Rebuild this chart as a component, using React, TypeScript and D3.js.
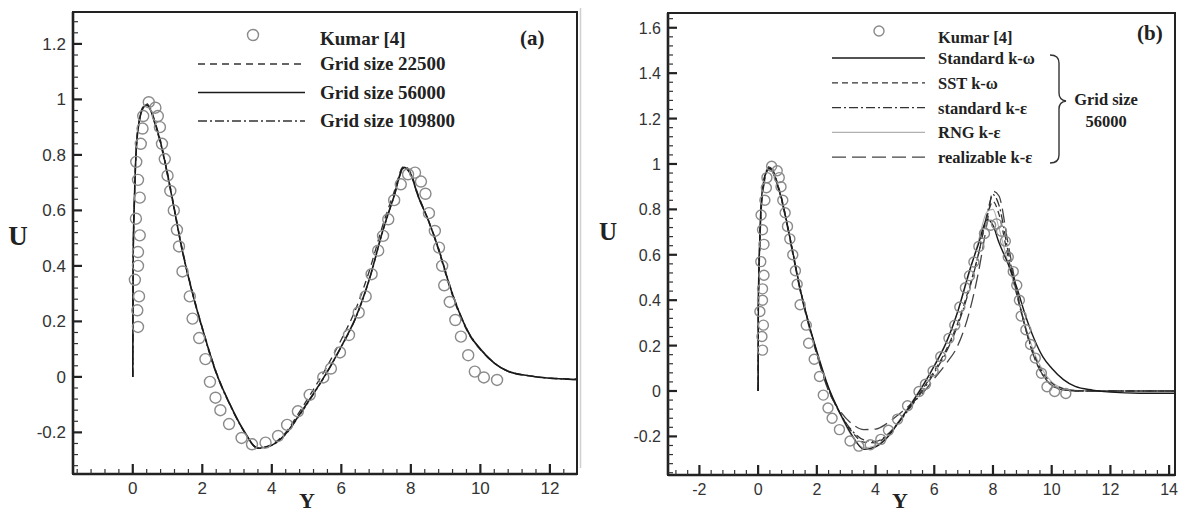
import React from "react";
import * as d3 from "d3";

// Kumar [4] reference points (Y, U)
const kumarY = [
  0.15, 0.13, 0.18, 0.06, 0.15, 0.15, 0.2, 0.09, 0.2, 0.15, 0.1, 0.23, 0.28, 0.3,
  0.46, 0.65, 0.72, 0.78, 0.84, 0.92, 1.0, 1.08, 1.18, 1.27, 1.33, 1.43, 1.64,
  1.72, 1.91, 2.09, 2.22, 2.38, 2.52, 2.77, 3.13, 3.43, 3.82, 4.18, 4.44, 4.75,
  5.09, 5.48, 5.7, 5.96, 6.22, 6.5, 6.7, 6.87, 7.06, 7.2, 7.35, 7.52, 7.71, 7.92,
  8.12, 8.29, 8.42, 8.52, 8.69, 8.81, 8.9, 8.96, 9.12, 9.28, 9.44, 9.65, 9.84,
  10.1, 10.48,
];
const kumarU = [
  0.18, 0.24, 0.29, 0.35, 0.4, 0.45, 0.51, 0.57, 0.646, 0.71, 0.775, 0.84, 0.895,
  0.94, 0.99, 0.97, 0.94, 0.9, 0.84, 0.785, 0.725, 0.67, 0.6, 0.53, 0.47, 0.38,
  0.29, 0.21, 0.14, 0.064, -0.018, -0.075, -0.12, -0.17, -0.22, -0.243, -0.237,
  -0.213, -0.173, -0.124, -0.065, -0.002, 0.03, 0.088, 0.151, 0.232, 0.29, 0.37,
  0.455, 0.508, 0.568, 0.637, 0.694, 0.73, 0.736, 0.704, 0.66, 0.59, 0.526,
  0.466, 0.4, 0.33, 0.27, 0.205, 0.145, 0.078, 0.019, -0.002, -0.011,
];

// Y stations of the computed profiles
const modelY = [
  0, 0.01, 0.05, 0.1, 0.2, 0.3, 0.4, 0.5, 0.65, 0.8,
  1.0, 1.2, 1.4, 1.7, 2.0, 2.4, 2.8, 3.2, 3.6, 4.0,
  4.4, 4.8, 5.2, 5.6, 6.0, 6.4, 6.8, 7.2, 7.5, 7.8,
  8.0, 8.2, 8.5, 8.8, 9.1, 9.4, 9.7, 10.0, 10.4, 10.8,
  11.4, 12.0, 13.0, 14.2,
];

// (a) grid study
const grid22500 = [
  0, 0.4, 0.64, 0.82, 0.935, 0.975, 0.985, 0.97, 0.915, 0.85,
  0.735, 0.605, 0.475, 0.315, 0.178, 0.018, -0.1, -0.195, -0.256, -0.243,
  -0.2, -0.125, -0.045, 0.04, 0.135, 0.24, 0.38, 0.55, 0.66, 0.76,
  0.735, 0.66, 0.565, 0.455, 0.33, 0.225, 0.148, 0.098, 0.05, 0.02,
  0.004, -0.004, -0.008, -0.01,
];
const grid56000 = [
  0, 0.42, 0.65, 0.82, 0.93, 0.97, 0.98, 0.965, 0.91, 0.845,
  0.73, 0.6, 0.47, 0.31, 0.175, 0.015, -0.1, -0.195, -0.257, -0.246,
  -0.205, -0.135, -0.06, 0.02, 0.11, 0.21, 0.35, 0.53, 0.645, 0.755,
  0.73, 0.655, 0.565, 0.46, 0.335, 0.23, 0.15, 0.1, 0.05, 0.02,
  0.004, -0.005, -0.01, -0.01,
];
const grid109800 = [
  0, 0.43, 0.66, 0.825, 0.93, 0.97, 0.98, 0.965, 0.905, 0.84,
  0.725, 0.598, 0.468, 0.308, 0.172, 0.012, -0.103, -0.197, -0.258, -0.247,
  -0.207, -0.138, -0.062, 0.018, 0.108, 0.208, 0.348, 0.528, 0.643, 0.752,
  0.728, 0.654, 0.566, 0.462, 0.338, 0.232, 0.152, 0.101, 0.05, 0.02,
  0.004, -0.005, -0.01, -0.01,
];

// (b) turbulence models, grid 56000
const stdKOmega = grid56000;
const sstKOmega = [
  0, 0.4, 0.63, 0.8, 0.93, 0.975, 0.99, 0.975, 0.92, 0.85,
  0.73, 0.6, 0.47, 0.31, 0.17, 0.01, -0.1, -0.18, -0.225, -0.228,
  -0.195, -0.135, -0.065, 0.008, 0.088, 0.18, 0.3, 0.46, 0.6, 0.77,
  0.835, 0.78, 0.6, 0.43, 0.28, 0.16, 0.08, 0.035, 0.01, 0.002,
  0, 0, 0, 0,
];
const stdKEps = [
  0, 0.4, 0.62, 0.79, 0.92, 0.97, 0.985, 0.97, 0.915, 0.845,
  0.725, 0.595, 0.465, 0.305, 0.165, 0.005, -0.1, -0.175, -0.215, -0.222,
  -0.192, -0.137, -0.07, 0.0, 0.08, 0.17, 0.29, 0.45, 0.6, 0.78,
  0.865, 0.82, 0.625, 0.44, 0.28, 0.15, 0.07, 0.025, 0.005, 0.0,
  0, 0, 0, 0,
];
const rngKEps = [
  0, 0.41, 0.64, 0.81, 0.93, 0.97, 0.985, 0.97, 0.915, 0.85,
  0.73, 0.6, 0.47, 0.31, 0.17, 0.01, -0.105, -0.2, -0.25, -0.24,
  -0.2, -0.13, -0.055, 0.025, 0.115, 0.215, 0.35, 0.52, 0.66, 0.79,
  0.8, 0.72, 0.57, 0.43, 0.29, 0.17, 0.09, 0.04, 0.012, 0.003,
  0, 0, 0, 0,
];
const realKEps = [
  0, 0.38, 0.6, 0.78, 0.91, 0.965, 0.98, 0.965, 0.91, 0.84,
  0.72, 0.59, 0.46, 0.3, 0.16, 0.0, -0.09, -0.145, -0.17, -0.168,
  -0.142, -0.102, -0.058, -0.01, 0.055, 0.12, 0.2, 0.35, 0.52, 0.74,
  0.88, 0.86, 0.66, 0.45, 0.28, 0.15, 0.07, 0.025, 0.005, 0.0,
  0, 0, 0, 0,
];

const xTicksA = [0, 2, 4, 6, 8, 10, 12];
const uTicksA = [-0.2, 0, 0.2, 0.4, 0.6, 0.8, 1, 1.2];
const xTicksB = [-2, 0, 2, 4, 6, 8, 10, 12, 14];
const uTicksB = [-0.2, 0, 0.2, 0.4, 0.6, 0.8, 1, 1.2, 1.4, 1.6];

const legendA = ["Kumar [4]", "Grid size 22500", "Grid size 56000", "Grid size 109800"];
const legendB = ["Kumar [4]", "Standard k-ω", "SST k-ω", "standard k-ε", "RNG k-ε", "realizable k-ε"];

const serif = "'Liberation Serif', 'Times New Roman', serif";
const sans = "'Liberation Sans', Arial, sans-serif";

type Style = { stroke: string; width: number; dash?: string };
type Series = { values: number[]; style: Style };

function Panel(props: any) {
  const { id, box, xDomain, uDomain, xTicks, uTicks, series, r, tickSize } = props;
  const x = d3.scaleLinear().domain(xDomain).range([box.left, box.right]);
  const u = d3.scaleLinear().domain(uDomain).range([box.bottom, box.top]);
  const line = d3
    .line<number>()
    .x((_, i) => x(modelY[i]))
    .y((d) => u(d))
    .curve(d3.curveMonotoneX);

  const minorX = d3.range(Math.ceil(xDomain[0] / 0.4) * 0.4, xDomain[1], 0.4)
    .filter((v) => Math.abs(v / 2 - Math.round(v / 2)) > 0.01);
  const minorU = d3.range(Math.ceil(uDomain[0] / 0.04) * 0.04, uDomain[1], 0.04)
    .filter((v) => Math.abs(v / 0.2 - Math.round(v / 0.2)) > 0.01);

  return (
    <g>
      <defs>
        <clipPath id={id}>
          <rect x={box.left} y={box.top} width={box.right - box.left} height={box.bottom - box.top} />
        </clipPath>
      </defs>
      <g clipPath={`url(#${id})`}>
        {series.map((s: Series, i: number) => (
          <path key={i} d={line(s.values) || ""} fill="none" stroke={s.style.stroke}
            strokeWidth={s.style.width} strokeDasharray={s.style.dash} />
        ))}
        {kumarY.map((v, i) => (
          <circle key={i} cx={x(v)} cy={u(kumarU[i])} r={r} fill="none" stroke="#8a8a8a" strokeWidth={1.4} />
        ))}
      </g>
      <rect x={box.left} y={box.top} width={box.right - box.left} height={box.bottom - box.top}
        fill="none" stroke="#222" strokeWidth={2} />
      <line x1={box.left} x2={box.left} y1={box.top} y2={box.bottom} stroke="#222" strokeWidth={2.6} />
      <line x1={box.left} x2={box.right} y1={box.bottom} y2={box.bottom} stroke="#222" strokeWidth={2.6} />
      {uTicks.map((v: number) => (
        <g key={v}>
          <line x1={box.left} x2={box.left + 9} y1={u(v)} y2={u(v)} stroke="#222" strokeWidth={2.2} />
          <text x={box.left - 7} y={u(v) + 6} textAnchor="end" fontFamily={sans} fontSize={tickSize} fill="#333">
            {String(v)}
          </text>
        </g>
      ))}
      {minorU.map((v: number) => (
        <line key={v} x1={box.left} x2={box.left + 5} y1={u(v)} y2={u(v)} stroke="#333" strokeWidth={1.2} />
      ))}
      {xTicks.map((v: number) => (
        <g key={v}>
          <line x1={x(v)} x2={x(v)} y1={box.bottom} y2={box.bottom - 10} stroke="#222" strokeWidth={2.2} />
          <text x={x(v)} y={box.bottom + 20} textAnchor="middle" fontFamily={sans} fontSize={tickSize} fill="#333">
            {String(v)}
          </text>
        </g>
      ))}
      {minorX.map((v: number) => (
        <line key={v} x1={x(v)} x2={x(v)} y1={box.bottom} y2={box.bottom - 5} stroke="#333" strokeWidth={1.2} />
      ))}
    </g>
  );
}

function LegendRow({ x1, x2, y, style, label, tx, size }: any) {
  return (
    <g>
      <line x1={x1} x2={x2} y1={y} y2={y} stroke={style.stroke} strokeWidth={style.width} strokeDasharray={style.dash} />
      <text x={tx} y={y + 6} fontFamily={serif} fontWeight="bold" fontSize={size} fill="#222">{label}</text>
    </g>
  );
}

export default function App() {
  const dashA: Style = { stroke: "#333", width: 1.3, dash: "7,5" };
  const solidA: Style = { stroke: "#1a1a1a", width: 1.6 };
  const dotA: Style = { stroke: "#333", width: 1.3, dash: "9,3,2,3" };

  const solidB: Style = { stroke: "#1a1a1a", width: 1.4 };
  const sstB: Style = { stroke: "#333", width: 1.3, dash: "6,4" };
  const kepsB: Style = { stroke: "#333", width: 1.3, dash: "9,3,2,3" };
  const rngB: Style = { stroke: "#b0b0b0", width: 1.1 };
  const realB: Style = { stroke: "#444", width: 1.3, dash: "14,6" };

  const seriesA: Series[] = [
    { values: grid22500, style: dashA },
    { values: grid109800, style: dotA },
    { values: grid56000, style: solidA },
  ];
  const seriesB: Series[] = [
    { values: rngKEps, style: rngB },
    { values: realKEps, style: realB },
    { values: stdKEps, style: kepsB },
    { values: sstKOmega, style: sstB },
    { values: stdKOmega, style: solidB },
  ];
  const stylesB = [solidB, sstB, kepsB, rngB, realB];

  return (
    <svg width={1180} height={515} style={{ position: "absolute", left: 0, top: 0, background: "#fff" }}>
      <rect width={1180} height={515} fill="#fff" />
      <line x1={580.5} x2={580.5} y1={8} y2={468} stroke="#cfcfcf" strokeWidth={1.5} />

      <Panel id="clipA" box={{ left: 73, right: 577, top: 12, bottom: 474 }} xDomain={[-1.72, 12.78]}
        uDomain={[-0.35, 1.315]} xTicks={xTicksA} uTicks={uTicksA} series={seriesA} r={5.5} tickSize={17} />
      <Panel id="clipB" box={{ left: 668, right: 1175, top: 13, bottom: 475 }} xDomain={[-3.07, 14.2]}
        uDomain={[-0.37, 1.665]} xTicks={xTicksB} uTicks={uTicksB} series={seriesB} r={5} tickSize={16} />

      {/* axis titles */}
      <text x={18} y={245} textAnchor="middle" fontFamily={serif} fontWeight="bold" fontSize={27} fill="#222">U</text>
      <text x={307} y={508} textAnchor="middle" fontFamily={serif} fontWeight="bold" fontSize={22} fill="#222">Y</text>
      <text x={608} y={240} textAnchor="middle" fontFamily={serif} fontWeight="bold" fontSize={25} fill="#222">U</text>
      <text x={900} y={508} textAnchor="middle" fontFamily={serif} fontWeight="bold" fontSize={22} fill="#222">Y</text>

      {/* legend (a) */}
      <circle cx={253} cy={35} r={5.5} fill="none" stroke="#8a8a8a" strokeWidth={1.4} />
      <text x={320} y={45} fontFamily={serif} fontWeight="bold" fontSize={19} fill="#222">{legendA[0]}</text>
      {[dashA, solidA, dotA].map((s, i) => (
        <LegendRow key={i} x1={198} x2={305} y={64 + i * 28.5} style={s} label={legendA[i + 1]} tx={320} size={19} />
      ))}
      <text x={520} y={45} fontFamily={serif} fontWeight="bold" fontSize={21} fill="#222">(a)</text>

      {/* legend (b) */}
      <circle cx={879} cy={31} r={5} fill="none" stroke="#8a8a8a" strokeWidth={1.4} />
      <text x={938} y={43} fontFamily={serif} fontWeight="bold" fontSize={16.5} fill="#222">{legendB[0]}</text>
      {stylesB.map((s, i) => (
        <LegendRow key={i} x1={832} x2={925} y={58 + i * 24.8} style={s} label={legendB[i + 1]} tx={938} size={16.5} />
      ))}
      <path d="M1050 55 Q1059 55 1059 63 L1059 93 Q1059 100 1066 101 Q1059 102 1059 109 L1059 155 Q1059 163 1050 163"
        fill="none" stroke="#333" strokeWidth={1.4} />
      <text x={1106} y={105} textAnchor="middle" fontFamily={serif} fontWeight="bold" fontSize={16.5} fill="#222">Grid size</text>
      <text x={1106} y={127} textAnchor="middle" fontFamily={serif} fontWeight="bold" fontSize={16.5} fill="#222">56000</text>
      <text x={1137} y={40} fontFamily={serif} fontWeight="bold" fontSize={21} fill="#222">(b)</text>
    </svg>
  );
}
